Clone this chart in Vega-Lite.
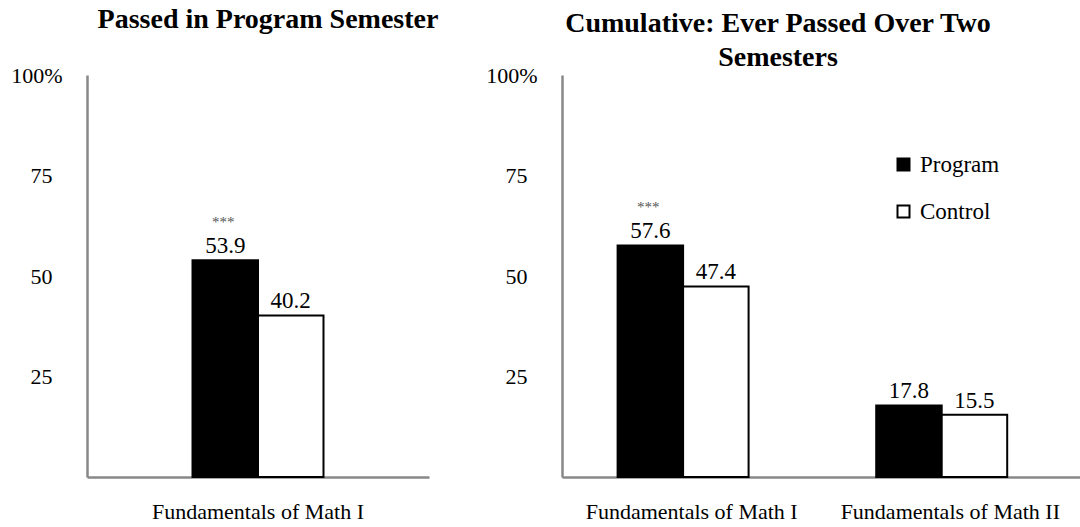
{
  "$schema": "https://vega.github.io/schema/vega-lite/v6.json",
  "background": "white",
  "padding": {"left": 10, "top": 6, "right": 0, "bottom": 0},
  "spacing": 133,
  "bounds": "flush",
  "config": {
    "view": {"stroke": null},
    "font": "Liberation Serif",
    "title": {"font": "Liberation Serif", "fontSize": 28, "fontWeight": "bold", "color": "black", "lineHeight": 34},
    "axis": {"labelFont": "Liberation Serif", "labelFontSize": 22, "labelColor": "black", "labelLimit": 0, "domainColor": "#888888", "domainWidth": 2.5, "ticks": false, "grid": false, "title": null}
  },
  "resolve": {"scale": {"fill": "independent"}, "legend": {"fill": "independent"}},
  "hconcat": [
    {
      "width": 342,
      "height": 402,
      "title": {"text": "Passed in Program Semester", "offset": 30, "dx": 10},
      "data": {"values": [
        {"course": "Fundamentals of Math I", "group": "Program", "value": 53.9, "sig": "***"},
        {"course": "Fundamentals of Math I", "group": "Control", "value": 40.2, "sig": ""}
      ]},
      "encoding": {
        "x": {"field": "course", "type": "nominal", "sort": null, "scale": {"paddingInner": 0.617, "paddingOuter": 0.3085}, "axis": {"labelAngle": 0, "labelPadding": 24}},
        "xOffset": {"field": "group", "type": "nominal", "sort": ["Program", "Control"]},
        "y": {"field": "value", "type": "quantitative", "scale": {"domain": [0, 100]}, "axis": {"values": [25, 50, 75, 100], "labelExpr": "datum.value == 100 ? '100%' : datum.label", "labelPadding": {"condition": {"test": "datum.value == 100", "value": 25}, "value": 35}}}
      },
      "layer": [
        {"mark": {"type": "bar", "stroke": "black", "strokeWidth": 2},
         "encoding": {"fill": {"field": "group", "type": "nominal", "sort": ["Program", "Control"], "scale": {"domain": ["Program", "Control"], "range": ["black", "white"]}, "legend": null}}},
        {"mark": {"type": "text", "fontSize": 23, "baseline": "alphabetic", "dy": -7, "color": "black"},
         "encoding": {"text": {"field": "value", "type": "quantitative", "format": ".1f"}}},
        {"mark": {"type": "text", "fontSize": 15, "baseline": "alphabetic", "dy": -33, "dx": -2, "color": "#555555"},
         "encoding": {"text": {"field": "sig", "type": "nominal"}}}
      ]
    },
    {
      "width": 518,
      "height": 402,
      "title": {"text": ["Cumulative: Ever Passed Over Two", "Semesters"], "offset": -8, "dx": -43},
      "data": {"values": [
        {"course": "Fundamentals of Math I", "group": "Program", "value": 57.6, "sig": "***"},
        {"course": "Fundamentals of Math I", "group": "Control", "value": 47.4, "sig": ""},
        {"course": "Fundamentals of Math II", "group": "Program", "value": 17.8, "sig": ""},
        {"course": "Fundamentals of Math II", "group": "Control", "value": 15.5, "sig": ""}
      ]},
      "encoding": {
        "x": {"field": "course", "type": "nominal", "sort": null, "scale": {"paddingInner": 0.427, "paddingOuter": 0.215}, "axis": {"labelAngle": 0, "labelPadding": 24}},
        "xOffset": {"field": "group", "type": "nominal", "sort": ["Program", "Control"]},
        "y": {"field": "value", "type": "quantitative", "scale": {"domain": [0, 100]}, "axis": {"values": [25, 50, 75, 100], "labelExpr": "datum.value == 100 ? '100%' : datum.label", "labelPadding": {"condition": {"test": "datum.value == 100", "value": 25}, "value": 35}}}
      },
      "layer": [
        {"mark": {"type": "bar", "stroke": "black", "strokeWidth": 2},
         "encoding": {"fill": {"field": "group", "type": "nominal", "sort": ["Program", "Control"], "scale": {"domain": ["Program", "Control"], "range": ["black", "white"]},
           "legend": {"title": null, "orient": "none", "legendX": 330, "legendY": 78, "symbolType": "square", "symbolSize": 144, "symbolStrokeColor": "black", "symbolStrokeWidth": 2, "labelFont": "Liberation Serif", "labelFontSize": 23, "labelColor": "black", "labelOffset": 5, "rowPadding": 23}}}},
        {"mark": {"type": "text", "fontSize": 23, "baseline": "alphabetic", "dy": -7, "color": "black"},
         "encoding": {"text": {"field": "value", "type": "quantitative", "format": ".1f"}}},
        {"mark": {"type": "text", "fontSize": 15, "baseline": "alphabetic", "dy": -33, "dx": -2, "color": "#555555"},
         "encoding": {"text": {"field": "sig", "type": "nominal"}}}
      ]
    }
  ]
}
